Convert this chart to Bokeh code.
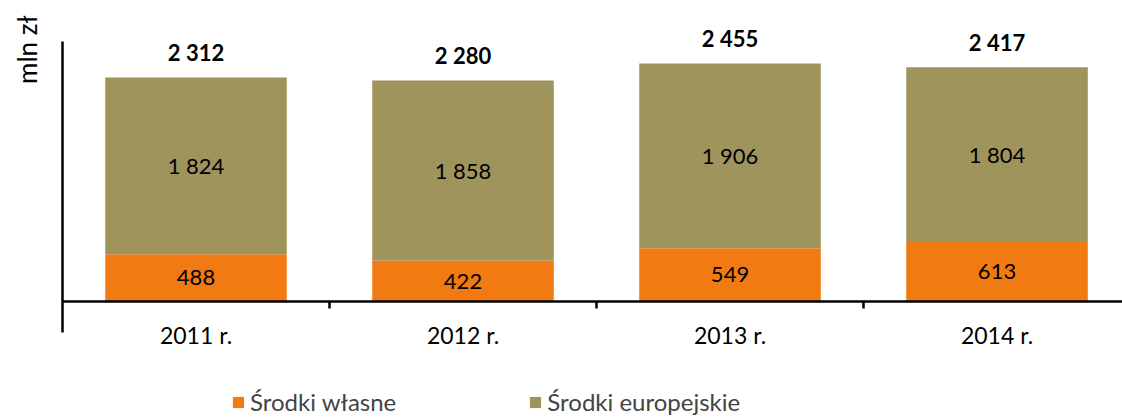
import math
from bokeh.plotting import figure
from bokeh.models import Range1d, FixedTicker, ColumnDataSource, Legend, LegendItem, Label
from bokeh.core.properties import value
from bokeh.embed import file_html
from bokeh.resources import INLINE

categories = ["2011 r.", "2012 r.", "2013 r.", "2014 r."]
wlasne = [488, 422, 549, 613]
europejskie = [1824, 1858, 1906, 1804]
totals = [2312, 2280, 2455, 2417]
series_names = ["Środki własne", "Środki europejskie"]
colors = ["#F27A12", "#A0945D"]

FONT = "Lato"

def fmt(v):
    return f"{v:,}".replace(",", " ")

xc = [i + 0.5 for i in range(len(categories))]
bounds = [i + 1.0 for i in range(len(categories) - 1)]

src = ColumnDataSource(dict(
    x=xc,
    wl=wlasne,
    eu=europejskie,
    tot=totals,
    wl_mid=[w / 2 for w in wlasne],
    eu_mid=[w + e / 2 for w, e in zip(wlasne, europejskie)],
    wl_txt=[fmt(v) for v in wlasne],
    eu_txt=[fmt(v) for v in europejskie],
    tot_txt=[fmt(v) for v in totals],
))

p = figure(width=1122, height=419, output_backend="svg", toolbar_location=None,
           x_range=Range1d(-0.2322, 3.97), y_range=Range1d(-1218, 3106),
           min_border_left=0, min_border_right=0, min_border_top=0, min_border_bottom=0)
p.outline_line_color = None
p.xgrid.visible = False
p.ygrid.visible = False

rs = p.vbar_stack(["wl", "eu"], x="x", width=0.68, color=colors, source=src, line_color=None)

p.text(x="x", y="wl_mid", text="wl_txt", source=src, text_align="center", text_baseline="middle",
       text_font=value(FONT), text_font_size="22px", text_color="black")
p.text(x="x", y="eu_mid", text="eu_txt", source=src, text_align="center", text_baseline="middle",
       text_font=value(FONT), text_font_size="22px", text_color="black")
p.text(x="x", y="tot", text="tot_txt", source=src, text_align="center", text_baseline="middle",
       y_offset=-25, text_font=value(FONT), text_font_size="22px", text_font_style="bold",
       text_color="black")

# y axis: line only, at x = 0, limited extent
ya = p.yaxis[0]
ya.fixed_location = 0
ya.bounds = (-320, 2683)
ya.ticker = FixedTicker(ticks=[0])
ya.major_tick_line_color = None
ya.minor_tick_line_color = None
ya.major_label_text_color = None
ya.major_label_text_font_size = "1px"
ya.major_tick_out = 0
ya.major_label_standoff = 0
ya.axis_line_width = 2.5
ya.axis_line_color = "black"

# x axis at zero, ticks at category boundaries
xa = p.xaxis[0]
xa.fixed_location = 0
xa.bounds = (0, 3.97)
xa.ticker = FixedTicker(ticks=xc, minor_ticks=bounds)
xa.major_label_overrides = {x: c for x, c in zip(xc, categories)}
xa.axis_line_color = "black"
xa.axis_line_width = 2.5
xa.major_tick_line_color = None
xa.major_tick_in = 0
xa.major_tick_out = 0
xa.minor_tick_in = 0
xa.minor_tick_out = 7
xa.minor_tick_line_color = "black"
xa.minor_tick_line_width = 2.5
xa.major_label_standoff = 13
xa.major_label_text_font = FONT
xa.major_label_text_font_size = "23px"
xa.major_label_text_color = "black"

p.add_layout(Label(x=-0.1348, y=2951, text="mln zł",
                   angle=math.pi / 2, text_align="right", text_baseline="middle",
                   text_font=FONT, text_font_size="26px", text_color="black"))

legend = Legend(items=[LegendItem(label=series_names[0], renderers=[rs[0]]),
                       LegendItem(label=series_names[1], renderers=[rs[1]])],
                orientation="horizontal", location=(231, 3),
                glyph_width=14, glyph_height=14, label_standoff=5, spacing=132,
                label_text_font=FONT, label_text_font_size="24px",
                border_line_color=None, background_fill_alpha=0, padding=0, margin=0)
p.add_layout(legend, "center")

open("out.html", "w").write(file_html(p, INLINE))
